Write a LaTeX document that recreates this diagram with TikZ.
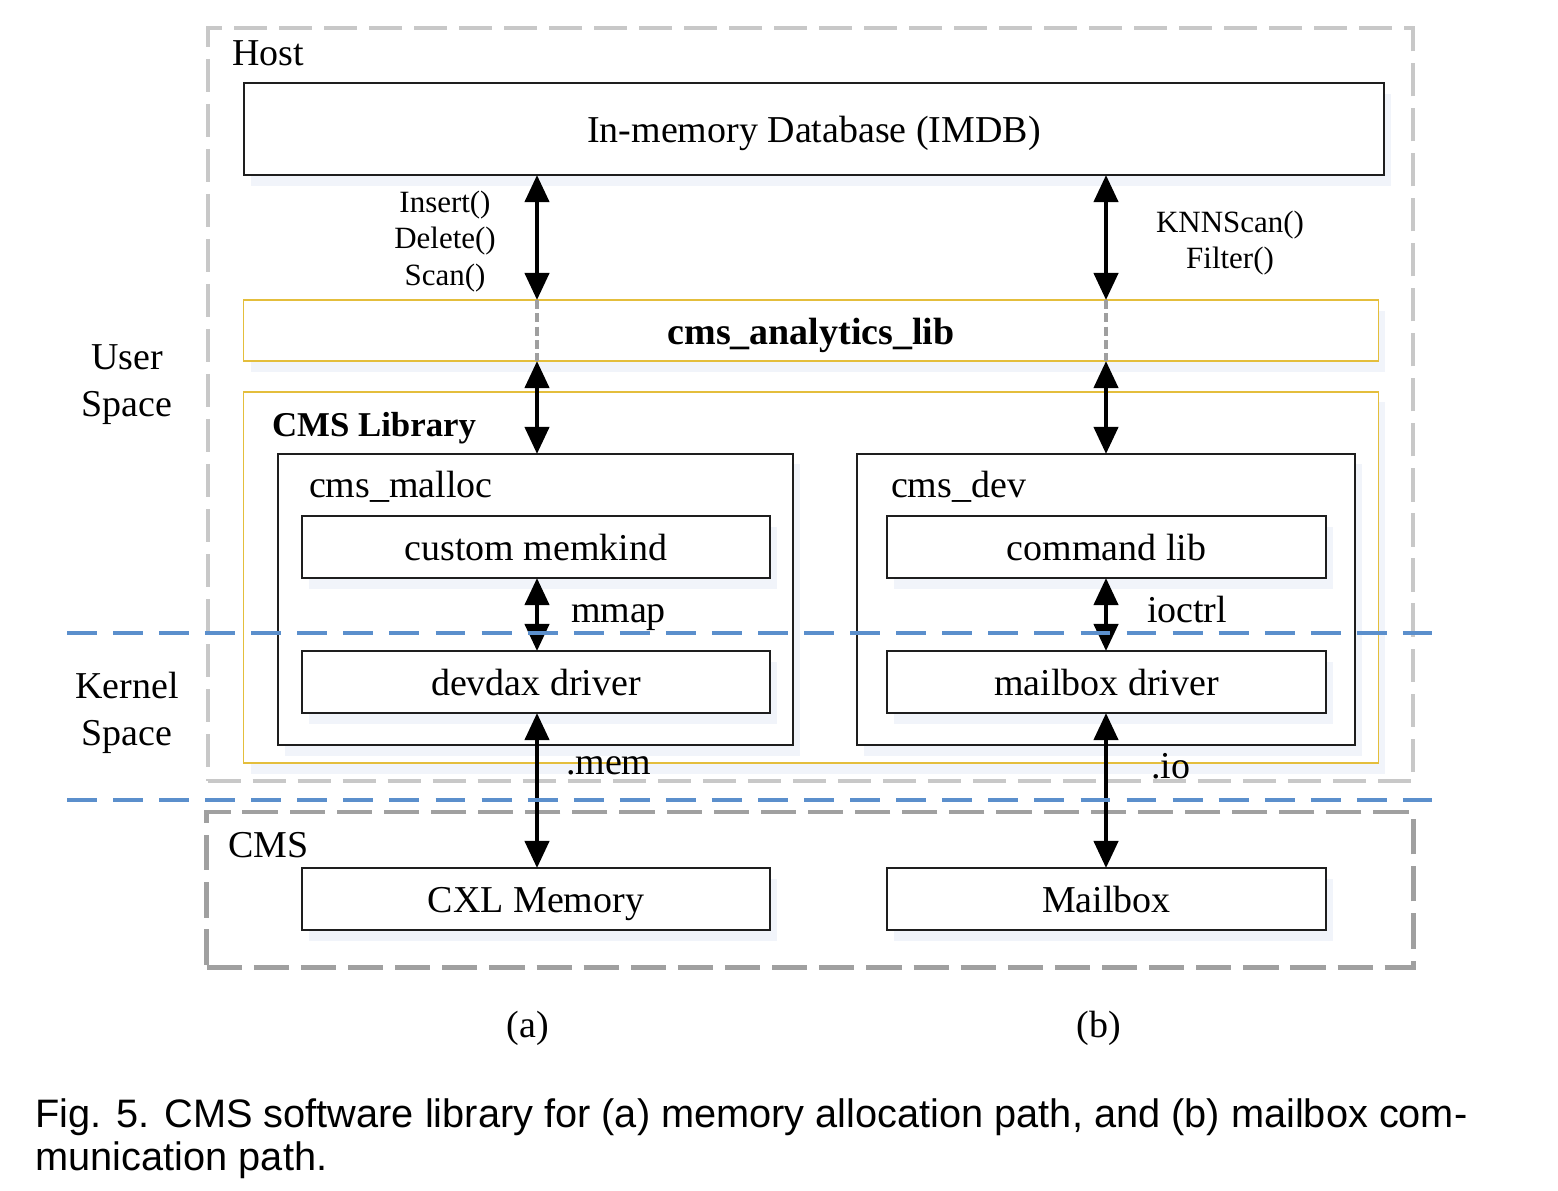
\documentclass[tikz,border=0pt]{standalone}
\usepackage{fontspec}
\setmainfont{Liberation Serif}
\newfontfamily\capfont{Liberation Sans}
\usetikzlibrary{arrows.meta,shadows}
\definecolor{hostgray}{RGB}{200,200,200}
\definecolor{cmsgray}{RGB}{160,160,160}
\definecolor{sepblue}{RGB}{91,143,204}
\definecolor{libyellow}{RGB}{228,190,60}
\definecolor{boxline}{RGB}{30,30,30}
\definecolor{shade}{RGB}{241,244,250}
\newcommand\mainsz{\fontsize{10.8}{13}\selectfont}
\newcommand\smallsz{\fontsize{8.8}{10.5}\selectfont}
\newcommand\capsz{\capfont\fontsize{11.3}{13}\selectfont}
\begin{document}
\begin{tikzpicture}[x=0.01cm,y=-0.01cm,
  box/.style={draw=boxline, line width=0.6pt, fill=white, inner sep=0pt, outer sep=0pt, font=\mainsz,
    text height=10.1pt, text depth=2.2pt,
    drop shadow={shadow xshift=2pt, shadow yshift=-3pt, fill=shade, opacity=1}},
  ybox/.style={draw=libyellow, line width=0.45pt, fill=white, inner sep=0pt, outer sep=0pt, font=\mainsz,
    text height=10.1pt, text depth=2.2pt,
    drop shadow={shadow xshift=2pt, shadow yshift=-3pt, fill=shade, opacity=1}},
  hostbox/.style={draw=hostgray, line width=1.1pt, dash pattern=on 9.4pt off 3.4pt, inner sep=0pt, outer sep=0pt},
  cmsbox/.style={draw=cmsgray, line width=1.4pt, dash pattern=on 10pt off 3.4pt, inner sep=0pt, outer sep=0pt},
  sepline/.style={draw=sepblue, line width=1.1pt, dash pattern=on 8.5pt off 4.6pt},
  biarr/.style={line width=1.2pt, arrows={Triangle[length=2.7mm,width=2.4mm]-Triangle[length=2.7mm,width=2.4mm]}},
  dotline/.style={draw=gray!75, line width=1pt, dash pattern=on 2.5pt off 1.3pt},
  lbl/.style={inner sep=0pt, outer sep=0pt, font=\mainsz},
  slbl/.style={inner sep=0pt, outer sep=0pt, font=\smallsz},
]
\useasboundingbox[fill=white] (0,0) rectangle (1558,1190);

% outer regions
\node[hostbox, minimum width=12.05cm, minimum height=7.53cm] (host) at (810.5,404.5) {};
\node[lbl, anchor=base west] (hostl) at (232,65) {Host};
\node[cmsbox, minimum width=12.06cm, minimum height=1.55cm] (cms) at (810,889.5) {};
\node[lbl, anchor=base west] (cmsl) at (228,857) {CMS};

% boxes
\node[box, minimum width=11.40cm, minimum height=0.92cm] (imdb) at (814,129) {In-memory Database (IMDB)};
\node[ybox, minimum width=11.34cm, minimum height=0.61cm, font=\mainsz\bfseries] (ana) at (811,330.5) {cms\_analytics\_lib};
\node[ybox, minimum width=11.34cm, minimum height=3.71cm] (lib) at (811,577.5) {};
\node[lbl, anchor=base west, font=\fontsize{9.9}{12}\selectfont\bfseries] (libl) at (272,436) {CMS Library};

\node[box, minimum width=5.15cm, minimum height=2.91cm] (malloc) at (535.5,599.5) {};
\node[lbl, anchor=base west] (mallocl) at (309,497) {cms\_malloc};
\node[box, minimum width=4.68cm, minimum height=0.62cm] (memkind) at (536,547) {custom memkind};
\node[box, minimum width=4.68cm, minimum height=0.62cm] (devdax) at (536,682) {devdax driver};

\node[box, minimum width=4.98cm, minimum height=2.91cm] (dev) at (1106,599.5) {};
\node[lbl, anchor=base west] (devl) at (891,497) {cms\_dev};
\node[box, minimum width=4.39cm, minimum height=0.62cm] (cmdlib) at (1106.5,547) {command lib};
\node[box, minimum width=4.39cm, minimum height=0.62cm] (mbdrv) at (1106.5,682) {mailbox driver};

\node[box, minimum width=4.68cm, minimum height=0.62cm] (cxl) at (536,899) {CXL Memory};
\node[box, minimum width=4.39cm, minimum height=0.62cm] (mbox) at (1106.5,899) {Mailbox};

% side labels
\node[lbl, anchor=base] (user) at (127,369) {User};
\node[lbl, anchor=base] (uspace) at (127,416) {Space};
\node[lbl, anchor=base] (kernel) at (127,698) {Kernel};
\node[lbl, anchor=base] (kspace) at (127,745) {Space};

% connectors
\coordinate (xa) at (537,0);
\coordinate (xb) at (1106,0);
\draw[biarr] (imdb.south -| xa) -- (ana.north -| xa);
\draw[dotline] (ana.north -| xa) -- (ana.south -| xa);
\draw[biarr] (ana.south -| xa) -- (malloc.north -| xa);
\draw[biarr] (memkind.south -| xa) -- (devdax.north -| xa);
\draw[biarr] (devdax.south -| xa) -- (cxl.north -| xa);

\draw[biarr] (imdb.south -| xb) -- (ana.north -| xb);
\draw[dotline] (ana.north -| xb) -- (ana.south -| xb);
\draw[biarr] (ana.south -| xb) -- (dev.north -| xb);
\draw[biarr] (cmdlib.south -| xb) -- (mbdrv.north -| xb);
\draw[biarr] (mbdrv.south -| xb) -- (mbox.north -| xb);

% connector labels
\node[slbl, anchor=base] (ins) at (445,212) {Insert()};
\node[slbl, anchor=base] (del) at (445,248) {Delete()};
\node[slbl, anchor=base] (scan) at (445,285) {Scan()};
\node[slbl, anchor=base] (knn) at (1230,232) {KNNScan()};
\node[slbl, anchor=base] (filt) at (1230,268) {Filter()};
\node[lbl, anchor=base west] (mmap) at (571,622) {mmap};
\node[lbl, anchor=base west] (ioctrl) at (1147,622) {ioctrl};
\node[lbl, anchor=base west] (mem) at (566,774) {.mem};
\node[lbl, anchor=base west] (io) at (1151,778) {.io};

% separators
\coordinate (s1l) at (67,633); \coordinate (s1r) at (1432,633);
\coordinate (s2l) at (67,800); \coordinate (s2r) at (1432,800);
\draw[sepline] (s1l) -- (s1r);
\draw[sepline] (s2l) -- (s2r);

% sub-captions
\node[lbl, anchor=base] (suba) at (528,1037) {(a)};
\node[lbl, anchor=base] (subb) at (1099,1037) {(b)};

% caption
\node[inner sep=0pt, anchor=base west, font=\capsz] (cap1) at (35,1127) {Fig. 5. CMS software library for (a) memory allocation path, and (b) mailbox com-};
\node[inner sep=0pt, anchor=base west, font=\capsz] (cap2) at (35,1170) {munication path.};
\end{tikzpicture}
\end{document}
